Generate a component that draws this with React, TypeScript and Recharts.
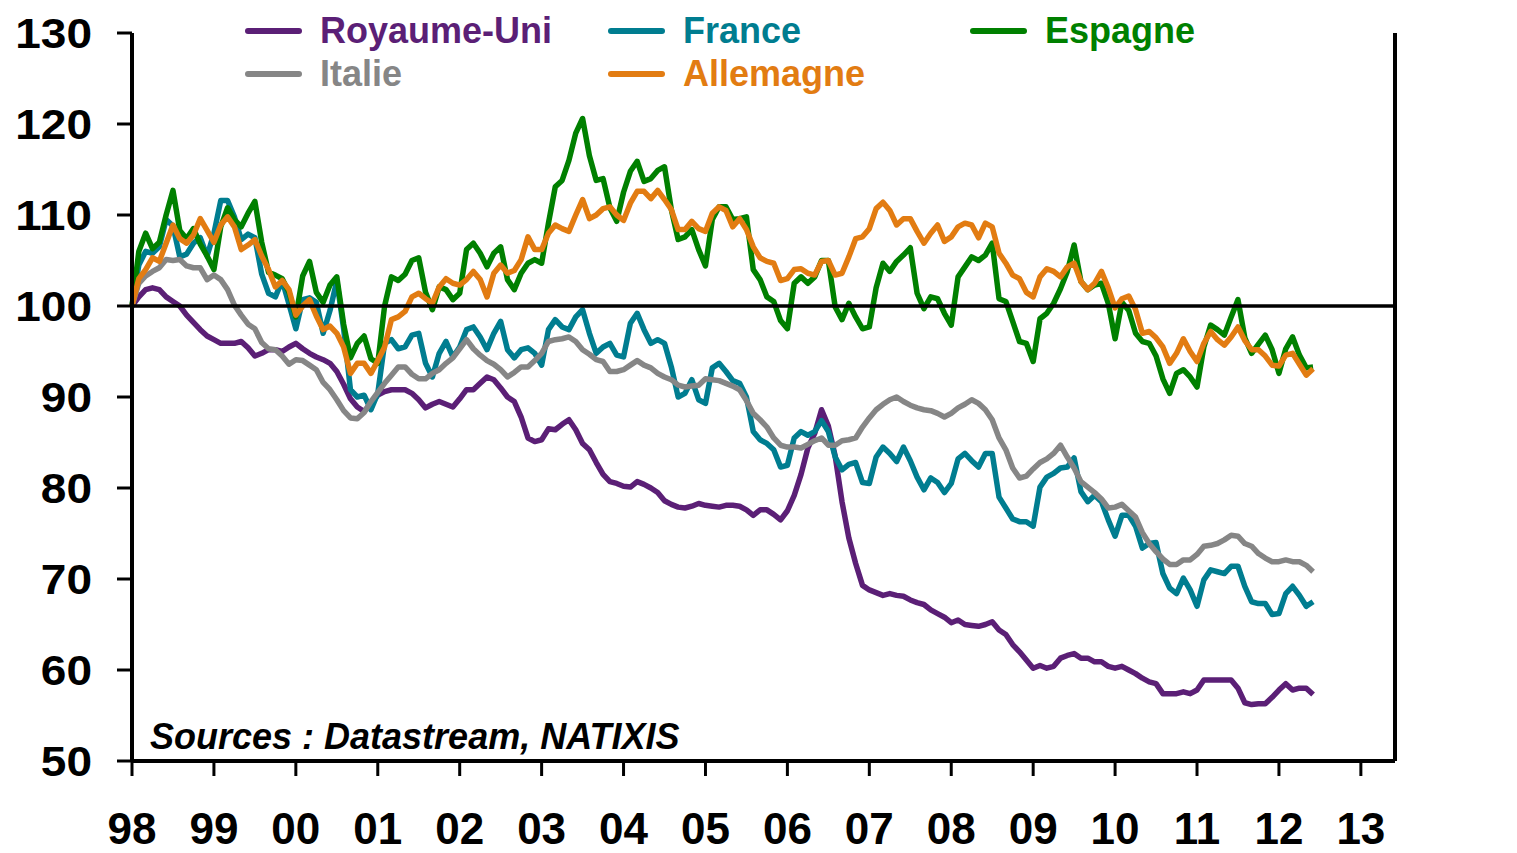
import React from "react";
import { LineChart, Line, XAxis, YAxis, ReferenceLine, Legend } from "recharts";

const FONT = "'Liberation Sans', Arial, Helvetica, sans-serif";

// axis labels
const yearLabels = ["98", "99", "00", "01", "02", "03", "04", "05", "06", "07", "08", "09", "10", "11", "12", "13"];
const yTicks = [50, 60, 70, 80, 90, 100, 110, 120, 130];

// monthly series, Jan 1998 = 100 (Jan 1998 .. Jun 2012)
const royaumeUni = [
  100, 101, 101.8, 102, 101.8, 101, 100.5, 100, 99, 98.2, 97.4, 96.7,
  96.3, 95.9, 95.9, 95.9, 96.1, 95.4, 94.5, 94.8, 95.2, 95.2, 95, 95.5,
  95.9, 95.3, 94.8, 94.4, 94.1, 93.7, 92.8, 91.4, 89.8, 88.9, 88.4, 89.3,
  90.2, 90.6, 90.8, 90.8, 90.8, 90.4, 89.7, 88.8, 89.2, 89.5, 89.2, 88.9,
  89.8, 90.8, 90.8, 91.5, 92.2, 91.9, 91, 90, 89.5, 87.8, 85.5, 85.1,
  85.3, 86.5, 86.4, 87, 87.5, 86.4, 84.9, 84.2, 82.8, 81.5, 80.7, 80.5,
  80.2, 80.1, 80.7, 80.4, 80, 79.5, 78.6, 78.2, 77.9, 77.8, 78, 78.3,
  78.1, 78, 77.9, 78.1, 78.1, 78, 77.6, 77, 77.6, 77.6, 77.1, 76.5,
  77.5, 79.2, 81.5, 84.4, 86, 88.6, 86.8, 83.5, 78.5, 74.5, 71.7, 69.3,
  68.8, 68.5, 68.2, 68.4, 68.2, 68.1, 67.7, 67.4, 67.2, 66.6, 66.2, 65.8,
  65.2, 65.5, 65, 64.9, 64.8, 65, 65.3, 64.4, 63.9, 62.8, 62, 61.1,
  60.2, 60.5, 60.2, 60.4, 61.3, 61.6, 61.8, 61.3, 61.3, 60.9, 60.9, 60.4,
  60.2, 60.4, 60, 59.6, 59.1, 58.7, 58.5, 57.4, 57.4, 57.4, 57.6, 57.4,
  57.8, 58.9, 58.9, 58.9, 58.9, 58.9, 58, 56.4, 56.2, 56.3, 56.3, 57,
  57.8, 58.5, 57.8, 58, 58, 57.3,
];

const france = [
  100, 104.5, 106, 105.8, 106.5, 109.5, 108.8, 105.4, 105.7, 106.9, 107.5, 105.5,
  108, 111.6, 111.6, 109.8, 107.3, 107.9, 107.5, 103.5, 101.4, 101, 102.8, 100.2,
  97.5, 100.7, 100.9, 100.4, 97, 99.5, 102.8, 97.5, 90.8, 90, 90.2, 88.6,
  90.4, 95.9, 96.3, 95.3, 95.5, 96.8, 97, 93.7, 92.2, 94.8, 96.1, 94.4,
  95.5, 97.4, 97.7, 96.6, 95.2, 97, 98.3, 95.2, 94.3, 95.2, 95.4, 94.8,
  93.5, 97.4, 98.5, 97.7, 97.4, 98.8, 99.6, 97, 94.8, 95.5, 95.9, 94.6,
  94.4, 98.1, 99.2, 97.4, 95.9, 96.3, 95.9, 93.3, 90, 90.4, 91.9, 89.7,
  89.3, 93.2, 93.7, 92.8, 91.8, 91.5, 90, 86.2, 85.3, 84.9, 84.2, 82.3,
  82.5, 85.5, 86.2, 85.8, 86.2, 87.4, 86.2, 83.4, 82, 82.6, 82.8, 80.6,
  80.5, 83.4, 84.5, 83.8, 82.9, 84.5, 83, 81.2, 79.8, 81.1, 80.6, 79.5,
  80.5, 83.2, 83.8, 83, 82.3, 83.8, 83.8, 79, 77.8, 76.6, 76.3, 76.3,
  75.8, 80.1, 81.2, 81.6, 82.2, 82.3, 83.3, 79.6, 78.5, 79.2, 78.5, 76.5,
  74.7, 77, 77, 75.8, 73.4, 73.9, 74, 70.6, 69, 68.4, 70.1, 68.8,
  67, 69.9, 71, 70.8, 70.6, 71.4, 71.4, 69.2, 67.5, 67.3, 67.3, 66.1,
  66.2, 68.4, 69.2, 68.2, 67, 67.5,
];

const espagne = [
  100, 106, 108, 106.3, 107, 110, 112.7, 108.3, 107.4, 108.5, 106.8, 105.5,
  104, 108.7, 110.8, 109.5, 108.7, 110.2, 111.5, 107, 103.7, 103.4, 103, 101.5,
  98.8, 103.3, 104.9, 101.5, 100.4, 102.3, 103.2, 98, 94.3, 95.9, 96.7, 94.2,
  93.7, 100, 103.2, 102.8, 103.5, 105, 105.3, 101.5, 99.6, 102.1, 101.8, 100.7,
  101.4, 106.2, 106.9, 105.8, 104.3, 105.8, 106.5, 102.9, 101.8, 103.6, 104.7, 105.1,
  104.7, 109.1, 113.1, 113.8, 116, 119, 120.6, 116.5, 113.8, 114, 110.8, 109.3,
  112.5, 114.8, 115.9, 113.7, 114, 114.9, 115.3, 110.6, 107.3, 107.6, 108.4, 106.2,
  104.4, 109.5, 110.9, 110.9, 109.5, 109.6, 109.8, 104, 102.9, 101, 100.5, 98.4,
  97.5, 102.5, 103.2, 102.5, 103.2, 105, 105, 99.9, 98.5, 100.3, 98.8, 97.5,
  97.7, 102, 104.7, 103.8, 104.9, 105.6, 106.4, 101.4, 99.7, 101, 100.8, 99.2,
  97.9, 103.2, 104.3, 105.4, 105, 105.6, 106.9, 100.8, 100.5, 98.3, 96.1, 95.9,
  93.9, 98.6, 99.2, 100.3, 101.9, 103.8, 106.7, 102.7, 101.8, 102.3, 102.5, 100.3,
  96.4, 100.4, 99.5, 97, 96.1, 95.9, 94.5, 92, 90.4, 92.6, 93, 92.2,
  91.1, 95.5, 97.9, 97.4, 96.8, 98.8, 100.7, 96.5, 94.8, 95.8, 96.8, 95.2,
  92.6, 95.3, 96.6, 94.6, 93.2, 93.3,
];

const italie = [
  100, 102.5, 103.3, 103.8, 104.2, 105.1, 105, 105.1, 104.4, 104.2, 104.2, 102.9,
  103.4, 102.9, 101.8, 100.1, 99, 98, 97.5, 96, 95.3, 95.2, 94.5, 93.6,
  94.1, 94, 93.5, 93, 91.6, 90.8, 89.7, 88.5, 87.7, 87.6, 88.3, 89.5,
  90.5, 91.5, 92.4, 93.3, 93.3, 92.5, 92, 92, 92.6, 93, 93.7, 94.3,
  95.3, 96.3, 95.3, 94.6, 94, 93.6, 93, 92.2, 92.7, 93.3, 93.3, 94,
  94.8, 96.1, 96.3, 96.4, 96.6, 96.1, 95.2, 94.7, 94.1, 93.9, 92.8, 92.8,
  93, 93.5, 94, 93.5, 93.2, 92.6, 92.2, 91.9, 91.3, 91.1, 91.2, 91.3,
  92, 91.9, 91.8, 91.5, 91.2, 90.8, 89.6, 88.2, 87.5, 86.7, 85.5, 84.7,
  84.5, 84.5, 84.4, 84.8, 85.2, 85.5, 84.7, 84.7, 85.2, 85.3, 85.5, 86.7,
  87.7, 88.6, 89.2, 89.7, 90, 89.5, 89.1, 88.8, 88.6, 88.5, 88.2, 87.8,
  88.2, 88.8, 89.2, 89.7, 89.3, 88.6, 87.5, 85.5, 84.2, 82.2, 81.1, 81.3,
  82.1, 82.8, 83.2, 83.8, 84.7, 83.4, 82.2, 80.7, 80.1, 79.5, 78.8, 77.8,
  77.9, 78.2, 77.5, 76.8, 75.1, 73.9, 73, 72.2, 71.6, 71.6, 72.1, 72.1,
  72.7, 73.6, 73.7, 73.9, 74.3, 74.8, 74.7, 73.9, 73.6, 72.8, 72.3, 71.9,
  71.9, 72.1, 71.9, 71.9, 71.5, 70.8,
];

const allemagne = [
  100, 103, 104, 105.3, 104.9, 106.9, 108.9, 107.4, 106.9, 107.8, 109.6, 108.3,
  107, 108.9, 109.8, 108.7, 106.2, 106.7, 107.3, 105.5, 104, 102.1, 102.8, 101.8,
  99, 100, 100.7, 98.9, 97.4, 97.8, 97, 95.5, 92.6, 93.7, 93.7, 92.6,
  94, 95.5, 98.5, 98.8, 99.4, 101, 101.4, 100.8, 100.3, 102.1, 103, 102.5,
  102.3, 102.9, 103.8, 102.9, 101, 103.6, 104.5, 103.6, 103.9, 105.1, 107.6, 106.2,
  106.2, 108, 108.9, 108.5, 108.2, 110, 111.7, 109.6, 110, 110.7, 110.9, 110,
  109.4, 111.3, 112.6, 112.6, 111.8, 112.7, 111.7, 110.6, 108.4, 108.4, 109.3, 108.5,
  108.2, 110.2, 110.9, 110.5, 108.7, 109.6, 108.4, 106.5, 105.3, 104.9, 104.7, 102.8,
  103, 104, 104.1, 103.6, 103.4, 104.9, 105, 103.4, 103.6, 105.4, 107.4, 107.6,
  108.5, 110.7, 111.4, 110.5, 108.9, 109.6, 109.6, 108.2, 106.9, 108, 108.9, 107.1,
  107.6, 108.7, 109.1, 108.9, 107.5, 109.1, 108.7, 105.8, 104.7, 103.4, 103, 101.5,
  101, 103.2, 104.1, 103.8, 103.2, 104.3, 104.7, 102.7, 101.8, 102.5, 103.8, 102,
  99.8, 100.8, 101.1, 99.6, 97, 97.2, 96.5, 95.5, 93.7, 94.8, 96.4, 95,
  93.9, 95.9, 97.2, 96.3, 95.7, 96.6, 97.7, 96.2, 95.2, 95.2, 94.5, 93.5,
  93.4, 94.6, 94.8, 93.6, 92.4, 93.1,
];

// drawing order: later series sit on top
const series = [
  { key: "royaumeUni", name: "Royaume-Uni", color: "#5B1F76", values: royaumeUni },
  { key: "france", name: "France", color: "#007D90", values: france },
  { key: "espagne", name: "Espagne", color: "#008000", values: espagne },
  { key: "italie", name: "Italie", color: "#868686", values: italie },
  { key: "allemagne", name: "Allemagne", color: "#E27C12", values: allemagne },
];

const data = royaumeUni.map((_, i) => {
  const row: Record<string, number> = { m: i };
  series.forEach((s) => {
    row[s.key] = s.values[i];
  });
  return row;
});

const xTicks = yearLabels.map((_, i) => i * 12);

// legend placement (3 columns, 2 rows)
const legendSlots = [
  { key: "royaumeUni", left: 245, top: 31 },
  { key: "france", left: 608, top: 31 },
  { key: "espagne", left: 970, top: 31 },
  { key: "italie", left: 245, top: 74 },
  { key: "allemagne", left: 608, top: 74 },
];

const XTick = ({ x, y, payload }: any) => (
  <text x={x} y={y + 66} textAnchor="middle" fontFamily={FONT} fontWeight="bold" fontSize={44} fill="#000">
    {yearLabels[Math.round(payload.value / 12)]}
  </text>
);

// y labels are drawn wider than plain Arial
const yLabelWidth = (v: number) => String(v).length * 25.6;

const LeftTick = ({ x, y, payload }: any) => (
  <text
    x={x - 23}
    y={y + 15}
    textAnchor="end"
    fontFamily={FONT}
    fontWeight="bold"
    fontSize={42}
    fill="#000"
    textLength={yLabelWidth(payload.value)}
    lengthAdjust="spacingAndGlyphs"
  >
    {payload.value}
  </text>
);

const RightTick = ({ x, y, payload }: any) => (
  <text
    x={x + 6}
    y={y + 15}
    textAnchor="start"
    fontFamily={FONT}
    fontWeight="bold"
    fontSize={42}
    fill="#000"
    textLength={yLabelWidth(payload.value)}
    lengthAdjust="spacingAndGlyphs"
  >
    {payload.value}
  </text>
);

const renderLegend = () => (
  <div style={{ position: "relative", width: 1517, height: 100, fontFamily: FONT }}>
    {legendSlots.map((slot) => {
      const s = series.find((d) => d.key === slot.key)!;
      return (
        <div key={slot.key}>
          <div
            style={{
              position: "absolute",
              left: slot.left,
              top: slot.top - 3,
              width: 57,
              height: 6,
              borderRadius: 3,
              background: s.color,
            }}
          />
          <div
            style={{
              position: "absolute",
              left: slot.left + 75,
              top: slot.top - 18,
              fontSize: 36,
              lineHeight: "36px",
              fontWeight: "bold",
              color: s.color,
              whiteSpace: "nowrap",
            }}
          >
            {s.name}
          </div>
        </div>
      );
    })}
  </div>
);

export default function App() {
  return (
    <div style={{ position: "absolute", left: 0, top: 0, width: 1517, height: 853, background: "#fff" }}>
      <LineChart width={1517} height={853} data={data} margin={{ top: 33, right: 0, bottom: 0, left: 0 }}>
        <XAxis
          dataKey="m"
          type="number"
          domain={[0, 185]}
          ticks={xTicks}
          interval={0}
          height={92}
          tickSize={15}
          tickMargin={2}
          axisLine={{ stroke: "#000", strokeWidth: 4 }}
          tickLine={{ stroke: "#000", strokeWidth: 3 }}
          tick={<XTick />}
        />
        <YAxis
          yAxisId="l"
          orientation="left"
          domain={[50, 130]}
          ticks={yTicks}
          interval={0}
          width={132}
          tickSize={15}
          tickMargin={2}
          axisLine={{ stroke: "#000", strokeWidth: 4 }}
          tickLine={{ stroke: "#000", strokeWidth: 3 }}
          tick={<LeftTick />}
        />
        <YAxis
          yAxisId="r"
          orientation="right"
          domain={[50, 130]}
          ticks={yTicks}
          interval={0}
          width={122}
          tickSize={15}
          tickMargin={2}
          axisLine={{ stroke: "#000", strokeWidth: 4 }}
          tickLine={{ stroke: "#000", strokeWidth: 3 }}
          tick={<RightTick />}
        />
        <Legend
          layout="vertical"
          verticalAlign="middle"
          align="center"
          content={renderLegend}
          wrapperStyle={{ position: "absolute", top: 0, left: 0, width: 1517, height: 100 }}
        />
        {series.map((s) => (
          <Line
            key={s.key}
            yAxisId="l"
            type="linear"
            dataKey={s.key}
            name={s.name}
            stroke={s.color}
            strokeWidth={5.5}
            strokeLinejoin="round"
            dot={false}
            activeDot={false}
            isAnimationActive={false}
          />
        ))}
        <ReferenceLine yAxisId="l" y={100} stroke="#000" strokeWidth={3.5} />
        <text x={150} y={749} fontFamily={FONT} fontWeight="bold" fontStyle="italic" fontSize={36} fill="#000">
          Sources : Datastream, NATIXIS
        </text>
      </LineChart>
    </div>
  );
}
